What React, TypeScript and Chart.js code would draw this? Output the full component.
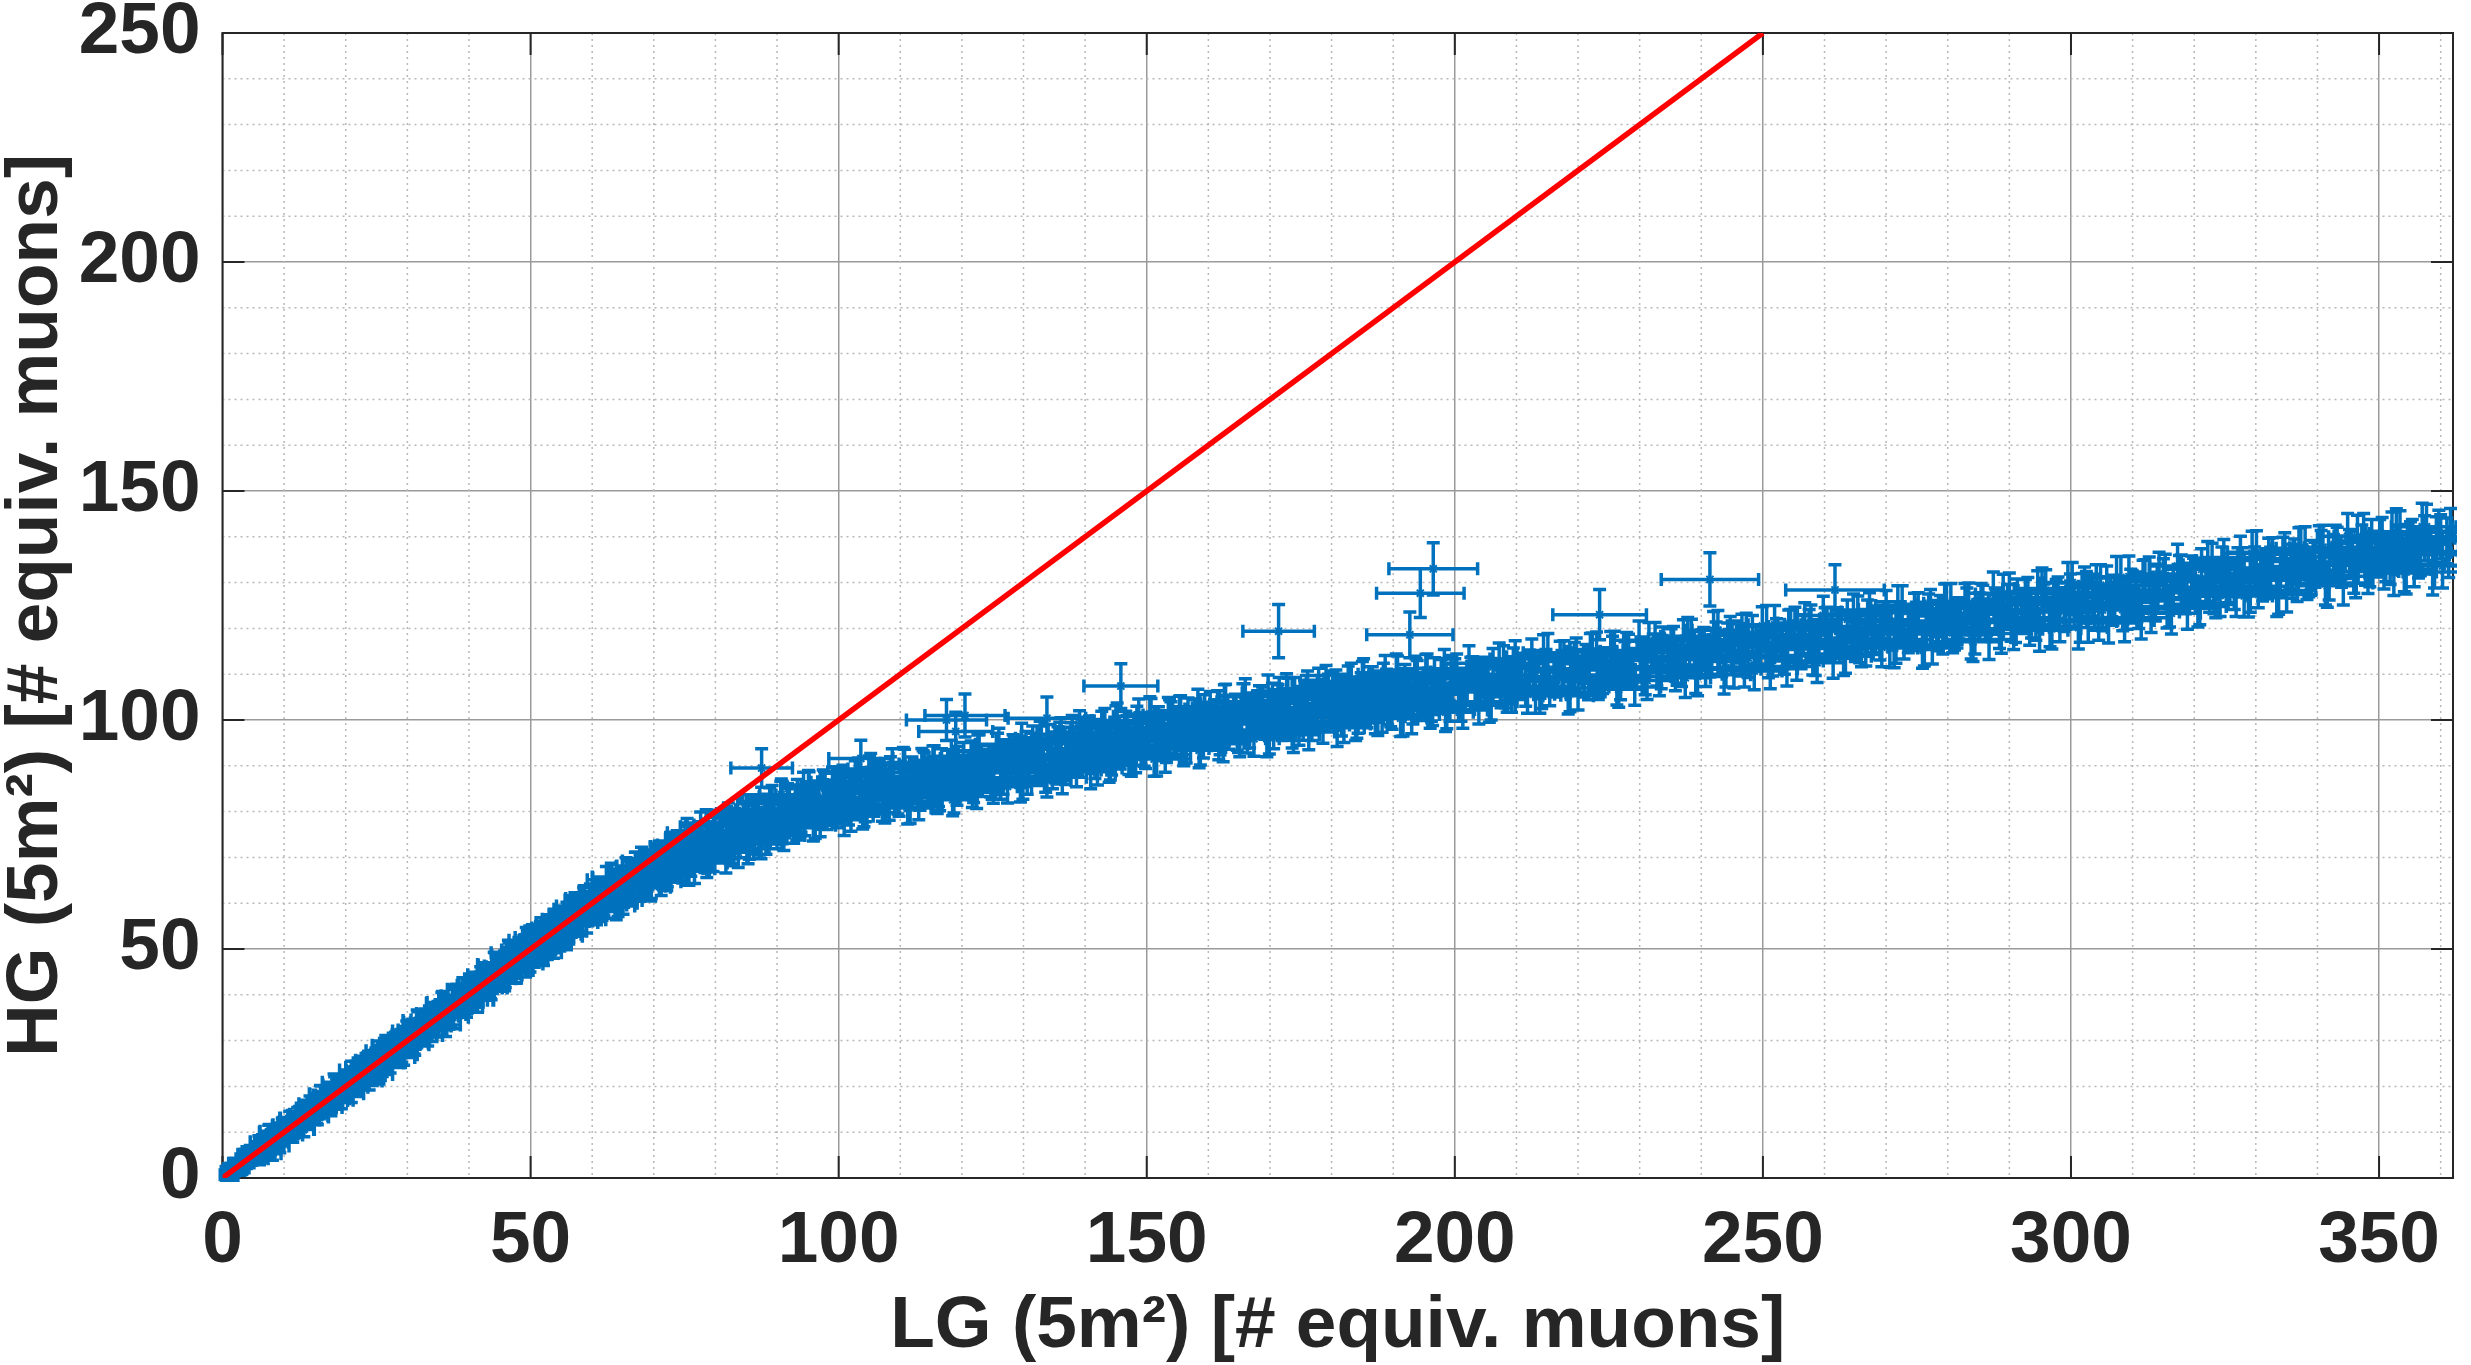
import { useEffect, useRef } from "react"
import Chart from "chart.js/auto"

// LG vs HG (equiv. muons). Errors are half-lengths.
// The band is very dense, so each region is given in three passes that share one error list.
const lgLow = [0.3,0.8,1.2,1.7,2.3,2.8,3.4,3.9,4.5,5.0,
  5.6,6.1,6.7,7.2,7.8,8.3,8.9,9.4,10.0,10.6,
  11.1,11.7,12.2,12.8,13.3,13.9,14.5,15.0,15.6,16.1,
  16.7,17.3,17.8,18.4,18.9,19.5,20.1,20.6,21.2,21.7,
  22.3,22.9,23.4,24.0,24.6,25.1,25.7,26.2,26.8,27.4,
  27.9,28.5,29.1,29.6,30.2,30.8,31.3,31.9,32.5,33.0,
  33.6,34.2,34.7,35.3,35.9,36.4,37.0,37.6,38.1,38.7,
  39.3,39.8,40.4,41.0,41.5,42.1,42.7,43.2,43.8,44.4,
  44.9,45.5,46.1,46.6,47.2,47.8,48.3,48.9,49.5,50.0,
  50.6,51.2,51.7,52.3,52.9,53.4,54.0]
const hgLow = [0.7,0.3,2.1,1.5,2.6,1.8,4.2,3.3,5.8,5.1,
  4.5,6.8,6.5,8.4,6.4,8.7,8.2,10.4,9.6,11.4,
  9.9,12.0,13.7,12.0,13.3,12.6,15.6,14.9,16.1,15.1,
  18.1,16.7,18.0,16.9,19.8,19.2,21.3,19.7,21.8,20.5,
  22.4,24.5,22.7,24.4,23.2,26.1,25.5,26.9,25.7,28.7,
  27.4,28.7,27.5,30.5,29.9,32.3,30.4,32.4,31.3,34.1,
  33.5,34.8,33.2,36.5,35.3,36.7,35.7,39.0,37.7,39.5,
  38.3,40.0,38.8,42.3,41.0,43.0,41.5,43.6,43.0,45.9,
  43.5,46.1,45.9,47.7,45.5,48.5,47.7,50.1,48.2,50.3,
  48.8,52.1,50.7,52.8,50.9,54.2,52.5]
const lgLow2 = [0.6,1.1,1.5,2.0,2.6,3.1,3.7,4.2,4.8,5.3,
  5.9,6.4,7.0,7.5,8.1,8.6,9.2,9.7,10.3,10.9,
  11.4,12.0,12.5,13.1,13.6,14.2,14.8,15.3,15.9,16.4,
  17.0,17.6,18.1,18.7,19.2,19.8,20.4,20.9,21.5,22.0,
  22.6,23.2,23.7,24.3,24.9,25.4,26.0,26.5,27.1,27.7,
  28.2,28.8,29.4,29.9,30.5,31.1,31.6,32.2,32.8,33.3,
  33.9,34.5,35.0,35.6,36.2,36.7,37.3,37.9,38.4,39.0,
  39.6,40.1,40.7,41.3,41.8,42.4,43.0,43.5,44.1,44.7,
  45.2,45.8,46.4,46.9,47.5,48.1,48.6,49.2,49.8,50.3,
  50.9,51.5,52.0,52.6,53.2,53.7,54.3]
const hgLow2 = [1.4,0.7,0.2,3.2,2.9,2.2,5.2,4.1,5.4,4.1,
  7.9,5.3,7.3,10.0,5.3,9.4,7.8,11.4,9.7,13.1,
  9.4,12.0,13.9,10.6,14.2,16.2,14.0,13.6,18.4,16.1,
  18.1,15.4,20.9,17.3,19.5,21.5,19.8,18.4,22.3,24.2,
  21.5,23.2,25.7,22.3,26.3,22.6,26.6,29.0,26.3,29.4,
  29.6,28.0,26.9,32.1,31.1,29.4,34.4,31.9,33.9,31.1,
  35.9,33.4,35.3,38.1,33.4,37.5,35.9,39.6,37.8,41.2,
  37.6,40.1,42.1,38.8,42.4,44.4,42.2,41.8,46.6,44.4,
  46.3,43.6,49.2,45.5,47.8,49.8,48.0,46.7,50.6,52.5,
  49.8,51.5,54.0,50.6,54.6,50.9,54.9]
const lgLow3 = [0.7,1.2,1.6,2.1,2.7,3.2,3.8,4.3,4.9,5.4,
  6.0,6.5,7.1,7.6,8.2,8.7,9.3,9.8,10.4,11.0,
  11.5,12.1,12.6,13.2,13.7,14.3,14.9,15.4,16.0,16.5,
  17.1,17.7,18.2,18.8,19.3,19.9,20.5,21.0,21.6,22.1,
  22.7,23.3,23.8,24.4,25.0,25.5,26.1,26.6,27.2,27.8,
  28.3,28.9,29.5,30.0,30.6,31.2,31.7,32.3,32.9,33.4,
  34.0,34.6,35.1,35.7,36.3,36.8,37.4,38.0,38.5,39.1,
  39.7,40.2,40.8,41.4,41.9,42.5,43.1,43.6,44.2,44.8,
  45.3,45.9,46.5,47.0,47.6,48.2,48.7,49.3,49.9,50.4,
  51.0,51.6,52.1,52.7,53.3,53.8,54.4]
const hgLow3 = [1.5,0.1,2.2,1.9,3.1,2.2,4.9,3.8,5.6,5.4,
  4.2,7.5,5.5,10.2,7.9,9.2,7.0,11.6,9.6,13.1,
  10.2,12.4,13.9,10.6,15.3,13.8,15.7,13.3,18.3,15.5,
  17.1,16.1,20.3,19.3,17.0,20.9,20.2,23.6,19.8,23.4,
  21.9,25.1,21.2,24.7,23.7,27.8,25.6,28.2,25.1,28.6,
  30.1,26.3,30.8,29.5,31.4,29.1,34.0,31.3,34.5,33.4,
  32.2,35.6,33.5,38.3,36.0,37.3,35.1,39.8,37.7,41.2,
  38.4,40.5,42.1,38.8,43.5,42.0,43.9,41.5,46.5,43.8,
  45.3,44.3,48.6,47.5,45.3,49.2,48.4,51.9,47.8,51.4,
  49.9,53.1,49.2,52.7,51.7,55.8,53.6]
const lgLowErr = [0.8,0.9,1.0,1.0,1.1,1.1,1.2,1.2,1.3,1.3,
  1.4,1.3,1.4,1.5,1.4,1.5,1.5,1.6,1.5,1.6,
  1.6,1.7,1.6,1.7,1.7,1.8,1.7,1.8,1.8,1.8,
  1.9,1.8,1.9,1.9,1.9,2.0,1.9,2.0,2.0,2.0,
  2.1,2.0,2.1,2.1,2.1,2.2,2.1,2.2,2.2,2.2,
  2.2,2.3,2.2,2.3,2.3,2.3,2.3,2.4,2.3,2.4,
  2.4,2.4,2.4,2.5,2.4,2.5,2.5,2.5,2.5,2.5,
  2.6,2.5,2.6,2.6,2.6,2.6,2.7,2.6,2.7,2.7,
  2.7,2.7,2.8,2.7,2.8,2.8,2.8,2.8,2.9,2.8,
  2.9,2.9,2.9,2.9,3.0,2.9,3.0]
const hgLowErr = [0.9,0.8,1.0,1.1,1.0,1.2,1.1,1.2,1.3,1.2,
  1.3,1.4,1.3,1.5,1.4,1.4,1.5,1.6,1.5,1.5,
  1.6,1.6,1.7,1.6,1.7,1.7,1.8,1.7,1.8,1.8,
  1.9,1.8,1.8,1.9,1.9,1.9,2.0,1.9,2.0,2.0,
  2.0,2.1,2.0,2.1,2.1,2.1,2.2,2.1,2.2,2.2,
  2.2,2.2,2.3,2.2,2.3,2.3,2.3,2.3,2.4,2.3,
  2.4,2.4,2.4,2.4,2.5,2.4,2.5,2.5,2.5,2.5,
  2.5,2.6,2.5,2.6,2.6,2.6,2.6,2.6,2.7,2.6,
  2.7,2.7,2.7,2.7,2.8,2.7,2.8,2.8,2.8,2.8,
  2.8,2.9,2.8,2.9,2.9,2.9,3.0]

const lgBend = [54.6,55.2,55.9,56.5,57.2,57.8,58.4,59.1,59.7,60.4,
  61.0,61.6,62.3,62.9,63.6,64.2,64.8,65.5,66.1,66.8,
  67.4,68.0,68.7,69.3,70.0,70.6,71.2,71.9,72.5,73.2,
  73.8,74.4,75.1,75.7,76.4,77.0,77.6,78.3,78.9,79.6,
  80.2,80.8,81.5,82.1,82.8,83.4,84.0,84.7,85.3,86.0,
  86.6,87.2,87.9,88.5,89.2,89.8,90.4,91.1,91.7,92.4,
  93.0,93.6,94.3,94.9,95.6,96.2,96.8,97.5,98.1,98.8,
  99.4]
const hgBend = [55.4,53.2,57.4,56.0,59.4,56.5,58.5,56.4,61.2,59.3,
  61.8,59.3,65.1,61.8,64.1,60.0,64.3,66.9,62.5,65.1,
  64.2,69.2,63.7,67.9,66.7,69.9,64.7,70.4,69.4,67.7,
  72.7,69.2,73.9,67.0,72.3,71.4,76.7,69.9,74.7,70.1,
  73.6,76.7,72.5,78.7,71.4,76.7,74.8,78.4,71.9,80.0,
  78.5,73.8,80.5,77.1,82.4,76.5,79.5,74.8,82.7,78.5,
  82.4,77.3,85.2,80.6,83.1,77.6,82.7,85.7,79.6,82.6,
  81.1]
const lgBend2 = [54.9,55.5,56.2,56.8,57.5,58.1,58.7,59.4,60.0,60.7,
  61.3,61.9,62.6,63.2,63.9,64.5,65.1,65.8,66.4,67.1,
  67.7,68.3,69.0,69.6,70.3,70.9,71.5,72.2,72.8,73.5,
  74.1,74.7,75.4,76.0,76.7,77.3,77.9,78.6,79.2,79.9,
  80.5,81.1,81.8,82.4,83.1,83.7,84.3,85.0,85.6,86.3,
  86.9,87.5,88.2,88.8,89.5,90.1,90.7,91.4,92.0,92.7,
  93.3,93.9,94.6,95.2,95.9,96.5,97.1,97.8,98.4,99.1,
  99.7]
const hgBend2 = [56.1,54.7,53.9,58.7,57.8,56.4,61.0,58.9,60.6,58.2,
  62.5,60.3,62.2,65.5,59.4,64.5,62.1,66.4,64.1,68.1,
  63.4,66.2,68.5,64.0,68.3,70.5,67.4,66.7,72.4,69.4,
  71.5,67.6,75.4,69.0,72.1,74.7,71.5,68.8,74.5,77.1,
  72.0,74.2,77.7,71.8,77.5,71.1,76.8,80.4,75.3,79.7,
  79.6,76.3,74.0,81.8,79.5,76.2,83.7,79.1,81.6,76.5,
  83.6,78.8,81.4,85.3,77.0,83.2,79.8,85.0,81.6,86.4,
  80.0]
const lgBend3 = [54.8,55.4,56.1,56.7,57.4,58.0,58.6,59.3,59.9,60.6,
  61.2,61.8,62.5,63.1,63.8,64.4,65.0,65.7,66.3,67.0,
  67.6,68.2,68.9,69.5,70.2,70.8,71.4,72.1,72.7,73.4,
  74.0,74.6,75.3,75.9,76.6,77.2,77.8,78.5,79.1,79.8,
  80.4,81.0,81.7,82.3,83.0,83.6,84.2,84.9,85.5,86.2,
  86.8,87.4,88.1,88.7,89.4,90.0,90.6,91.3,91.9,92.6,
  93.2,93.8,94.5,95.1,95.8,96.4,97.0,97.7,98.3,99.0,
  99.6]
const hgBend3 = [56.5,52.8,57.3,56.1,58.0,55.8,60.7,58.0,61.0,60.1,
  58.9,62.2,59.6,65.7,62.5,64.0,60.6,66.7,63.7,68.0,
  64.0,66.5,68.4,63.5,69.6,67.2,69.4,65.9,72.3,68.2,
  70.0,68.2,74.4,72.0,67.5,73.7,71.9,77.2,69.9,75.7,
  72.4,77.3,69.9,75.3,72.9,79.6,74.9,78.9,72.9,78.3,
  80.4,73.0,80.2,77.2,79.9,75.2,83.2,77.6,82.4,80.0,
  77.2,82.3,78.1,85.6,81.0,82.6,77.9,85.4,81.1,86.3,
  80.8]
const lgBendErr = [2.9,3.0,2.9,3.0,3.0,2.9,3.0,3.1,3.0,3.0,
  3.1,3.0,3.1,3.1,3.0,3.1,3.1,3.2,3.1,3.1,
  3.2,3.1,3.2,3.2,3.1,3.2,3.2,3.2,3.3,3.2,
  3.2,3.3,3.2,3.3,3.3,3.2,3.3,3.3,3.3,3.4,
  3.3,3.3,3.4,3.3,3.4,3.4,3.3,3.4,3.4,3.4,
  3.5,3.4,3.4,3.5,3.4,3.5,3.5,3.4,3.5,3.5,
  3.5,3.6,3.5,3.5,3.6,3.5,3.6,3.6,3.5,3.6,
  3.6]
const hgBendErr = [2.8,2.9,2.8,2.9,2.9,2.9,2.8,2.9,3.0,2.9,
  2.9,3.0,2.9,3.0,3.0,2.9,3.0,3.0,3.0,3.1,
  3.0,3.0,3.1,3.0,3.1,3.1,3.0,3.1,3.1,3.1,
  3.1,3.2,3.1,3.1,3.2,3.1,3.2,3.2,3.1,3.2,
  3.2,3.2,3.3,3.2,3.2,3.3,3.2,3.3,3.3,3.2,
  3.3,3.3,3.3,3.4,3.3,3.3,3.4,3.3,3.4,3.4,
  3.4,3.3,3.4,3.4,3.4,3.5,3.4,3.4,3.5,3.4,
  3.5]

const lgMid = [100.0,100.7,101.6,102.3,103.2,103.9,104.8,105.5,106.4,107.1,
  108.0,108.7,109.6,110.3,111.2,111.9,112.8,113.5,114.4,115.1,
  116.0,116.7,117.6,118.3,119.2,119.9,120.8,121.5,122.4,123.1,
  124.0,124.7,125.6,126.3,127.2,127.9,128.8,129.5,130.4,131.1,
  132.0,132.7,133.6,134.3,135.2,135.9,136.8,137.5,138.4,139.1,
  140.0,140.7,141.6,142.3,143.2,143.9,144.8,145.5,146.4,147.1,
  148.0,148.7,149.6,150.3,151.2,151.9,152.8,153.5,154.4,155.1,
  156.0,156.7,157.6,158.3,159.2,159.9,160.8,161.5,162.4,163.1,
  164.0,164.7,165.6,166.3,167.2,167.9,168.8,169.5,170.4,171.1,
  172.0,172.7,173.6,174.3,175.2,175.9,176.8,177.5,178.4,179.1,
  180.0,180.7,181.6,182.3,183.2,183.9,184.8,185.5,186.4,187.1,
  188.0,188.7,189.6,190.3,191.2,191.9,192.8,193.5,194.4,195.1,
  196.0,196.7,197.6,198.3,199.2]
const hgMid = [82.0,86.7,80.4,84.1,88.3,79.5,86.2,82.9,87.6,81.3,
  85.0,90.2,82.9,87.1,80.8,88.5,85.7,90.4,84.6,87.8,
  83.0,90.2,86.4,92.1,84.8,88.5,86.7,91.9,84.2,90.9,
  89.1,86.8,93.6,86.3,91.5,89.7,93.0,85.7,93.9,92.1,
  89.3,96.0,87.8,92.5,91.2,95.9,89.6,94.8,91.6,98.3,
  92.5,97.2,90.9,94.6,98.9,90.1,96.8,93.5,98.2,91.9,
  95.7,100.8,93.6,97.8,91.5,99.2,96.4,101.1,95.3,98.5,
  93.8,100.9,97.2,102.9,95.6,99.3,97.5,102.6,94.8,101.5,
  99.7,97.3,104.0,96.7,101.9,100.0,103.2,95.9,104.1,102.2,
  99.4,106.1,97.8,102.4,101.1,105.8,99.5,104.7,101.4,108.0,
  102.2,106.8,100.5,104.2,108.3,99.5,106.2,102.8,107.5,101.1,
  104.8,110.0,102.6,106.8,100.4,108.0,105.2,109.8,104.0,107.1,
  102.3,109.4,105.6,111.2,103.9]
const lgMid2 = [100.4,101.1,102.0,102.7,103.6,104.3,105.2,105.9,106.8,107.5,
  108.4,109.1,110.0,110.7,111.6,112.3,113.2,113.9,114.8,115.5,
  116.4,117.1,118.0,118.7,119.6,120.3,121.2,121.9,122.8,123.5,
  124.4,125.1,126.0,126.7,127.6,128.3,129.2,129.9,130.8,131.5,
  132.4,133.1,134.0,134.7,135.6,136.3,137.2,137.9,138.8,139.5,
  140.4,141.1,142.0,142.7,143.6,144.3,145.2,145.9,146.8,147.5,
  148.4,149.1,150.0,150.7,151.6,152.3,153.2,153.9,154.8,155.5,
  156.4,157.1,158.0,158.7,159.6,160.3,161.2,161.9,162.8,163.5,
  164.4,165.1,166.0,166.7,167.6,168.3,169.2,169.9,170.8,171.5,
  172.4,173.1,174.0,174.7,175.6,176.3,177.2,177.9,178.8,179.5,
  180.4,181.1,182.0,182.7,183.6,184.3,185.2,185.9,186.8,187.5,
  188.4,189.1,190.0,190.7,191.6,192.3,193.2,193.9,194.8,195.5,
  196.4,197.1,198.0,198.7,199.6]
const hgMid2 = [85.6,81.8,79.0,87.7,84.9,81.1,89.3,84.0,86.7,80.9,
  88.6,83.3,86.0,90.2,80.9,87.6,83.8,89.5,85.7,90.9,
  83.6,87.3,90.0,83.2,88.9,91.6,86.8,85.5,93.3,88.5,
  91.2,85.4,94.7,87.4,90.6,93.3,89.6,86.3,92.5,95.2,
  89.4,91.6,95.4,88.6,94.8,87.5,93.7,97.4,91.7,96.4,
  96.1,92.3,89.5,98.2,95.5,91.7,99.9,94.6,97.3,91.5,
  99.3,93.9,96.7,100.9,91.6,98.3,94.5,100.2,96.4,101.6,
  94.4,98.0,100.8,94.0,99.7,102.4,97.6,96.2,103.9,99.1,
  101.8,95.9,105.1,97.8,101.0,103.6,99.8,96.5,102.7,105.3,
  99.5,101.7,105.4,98.5,104.7,97.4,103.6,107.3,101.5,106.1,
  105.8,101.9,99.1,107.8,104.9,101.1,109.3,103.9,106.6,100.7,
  108.4,103.1,105.7,109.9,100.5,107.1,103.3,108.9,105.1,110.2,
  102.9,106.5,109.2,102.3,108.0]
const lgMid3 = [100.2,100.9,101.8,102.5,103.4,104.1,105.0,105.7,106.6,107.3,
  108.2,108.9,109.8,110.5,111.4,112.1,113.0,113.7,114.6,115.3,
  116.2,116.9,117.8,118.5,119.4,120.1,121.0,121.7,122.6,123.3,
  124.2,124.9,125.8,126.5,127.4,128.1,129.0,129.7,130.6,131.3,
  132.2,132.9,133.8,134.5,135.4,136.1,137.0,137.7,138.6,139.3,
  140.2,140.9,141.8,142.5,143.4,144.1,145.0,145.7,146.6,147.3,
  148.2,148.9,149.8,150.5,151.4,152.1,153.0,153.7,154.6,155.3,
  156.2,156.9,157.8,158.5,159.4,160.1,161.0,161.7,162.6,163.3,
  164.2,164.9,165.8,166.5,167.4,168.1,169.0,169.7,170.6,171.3,
  172.2,172.9,173.8,174.5,175.4,176.1,177.0,177.7,178.6,179.3,
  180.2,180.9,181.8,182.5,183.4,184.1,185.0,185.7,186.6,187.3,
  188.2,188.9,189.8,190.5,191.4,192.1,193.0,193.7,194.6,195.3,
  196.2,196.9,197.8,198.5,199.4]
const hgMid3 = [86.5,78.2,85.9,82.6,85.3,80.0,88.7,82.4,87.6,84.8,
  81.5,87.2,82.4,90.6,85.3,87.0,81.7,89.9,85.1,90.8,
  84.5,87.7,89.9,82.6,90.8,87.0,89.7,84.4,93.2,86.9,
  89.1,86.3,93.6,90.8,85.5,92.2,90.0,95.7,87.4,93.6,
  89.8,95.0,86.8,92.5,89.7,96.9,91.6,95.8,89.1,94.8,
  97.0,88.7,96.4,93.1,95.9,90.6,99.3,93.0,98.2,95.4,
  92.2,97.8,93.1,101.3,96.0,97.7,92.4,100.6,95.8,101.5,
  95.3,98.4,100.7,93.4,101.6,97.8,100.5,95.1,103.8,97.5,
  99.7,96.8,104.0,101.2,95.9,102.5,100.2,105.9,97.6,103.7,
  99.9,105.1,96.8,102.4,99.6,106.8,101.5,105.7,98.9,104.5,
  106.7,98.3,106.0,102.7,105.3,100.0,108.7,102.3,107.5,104.6,
  101.3,107.0,102.1,110.3,104.9,106.5,101.2,109.3,104.5,110.1,
  103.8,106.9,109.1,101.7,109.9]
const lgMidErr = [3.6,3.7,3.6,3.7,3.6,3.7,3.7,3.6,3.7,3.7,
  3.7,3.8,3.7,3.7,3.8,3.7,3.8,3.7,3.8,3.8,
  3.7,3.8,3.8,3.8,3.7,3.8,3.9,3.8,3.8,3.9,
  3.8,3.9,3.8,3.9,3.9,3.8,3.9,3.9,3.9,3.8,
  3.9,4.0,3.9,3.9,4.0,3.9,4.0,3.9,4.0,4.0,
  3.9,4.0,4.0,4.0,3.9,4.0,4.1,4.0,4.0,4.1,
  4.0,4.1,4.0,4.1,4.1,4.0,4.1,4.1,4.1,4.0,
  4.1,4.2,4.1,4.1,4.2,4.1,4.2,4.1,4.2,4.2,
  4.1,4.2,4.2,4.2,4.1,4.2,4.3,4.2,4.2,4.3,
  4.2,4.3,4.2,4.3,4.3,4.2,4.3,4.3,4.3,4.2,
  4.3,4.4,4.3,4.3,4.4,4.3,4.4,4.3,4.4,4.4,
  4.3,4.4,4.4,4.4,4.3,4.4,4.5,4.4,4.4,4.5,
  4.4,4.5,4.4,4.5,4.5]
const hgMidErr = [3.3,3.4,3.3,3.4,3.4,3.3,3.4,3.4,3.3,3.4,
  3.4,3.5,3.4,3.4,3.5,3.4,3.5,3.4,3.5,3.5,
  3.4,3.5,3.5,3.5,3.4,3.5,3.6,3.5,3.5,3.6,
  3.5,3.6,3.5,3.6,3.6,3.5,3.6,3.6,3.6,3.5,
  3.6,3.7,3.6,3.6,3.7,3.6,3.7,3.6,3.7,3.7,
  3.6,3.7,3.7,3.7,3.6,3.7,3.8,3.7,3.7,3.8,
  3.7,3.8,3.7,3.8,3.8,3.7,3.8,3.8,3.8,3.7,
  3.8,3.9,3.8,3.8,3.9,3.8,3.9,3.8,3.9,3.9,
  3.8,3.9,3.9,3.9,3.8,3.9,4.0,3.9,3.9,4.0,
  3.9,4.0,3.9,4.0,4.0,3.9,4.0,4.0,4.0,3.9,
  4.0,4.1,4.0,4.0,4.1,4.0,4.1,4.0,4.1,4.1,
  4.0,4.1,4.1,4.1,4.0,4.1,4.2,4.1,4.1,4.2,
  4.1,4.2,4.1,4.2,4.2]

const lgHigh = [200.0,201.0,202.3,203.3,204.6,205.6,206.9,207.9,209.2,210.2,
  211.5,212.5,213.8,214.8,216.1,217.1,218.4,219.4,220.7,221.7,
  223.0,224.0,225.3,226.3,227.6,228.6,229.9,230.9,232.2,233.2,
  234.5,235.5,236.8,237.8,239.1,240.1,241.4,242.4,243.7,244.7,
  246.0,247.0,248.3,249.3,250.6,251.6,252.9,253.9,255.2,256.2,
  257.5,258.5,259.8,260.8,262.1,263.1,264.4,265.4,266.7,267.7,
  269.0,270.0,271.3,272.3,273.6,274.6,275.9,276.9,278.2,279.2,
  280.5,281.5,282.8,283.8,285.1,286.1,287.4,288.4,289.7,290.7,
  292.0,293.0,294.3,295.3,296.6,297.6,298.9,299.9,301.2,302.2,
  303.5,304.5,305.8,306.8,308.1,309.1,310.4,311.4,312.7,313.7,
  315.0,316.0,317.3,318.3,319.6,320.6,321.9,322.9,324.2,325.2,
  326.5,327.5,328.8,329.8,331.1,332.1,333.4,334.4,335.7,336.7,
  338.0,339.0,340.3,341.3,342.6,343.6,344.9,345.9,347.2,348.2,
  349.5,350.5,351.8,352.8,354.1,355.1,356.4,357.4,358.7,359.7,
  361.0]
const hgHigh = [109.5,103.7,112.4,107.1,109.8,103.5,109.2,112.4,105.7,108.8,
  107.1,113.8,105.5,111.2,108.9,113.1,105.3,113.0,111.2,108.4,
  115.1,109.8,115.1,107.2,113.0,111.6,117.4,109.6,114.8,109.5,
  113.2,116.4,111.6,118.3,110.0,115.7,113.5,117.1,109.9,118.5,
  116.8,111.5,118.7,114.9,120.6,113.8,117.0,111.7,120.4,115.6,
  119.9,114.0,122.8,117.4,120.2,113.9,119.6,122.8,116.0,119.2,
  117.4,124.1,115.8,121.5,119.2,123.4,115.7,123.3,121.6,118.8,
  125.5,120.2,125.4,117.6,123.3,122.0,127.7,119.9,125.1,119.8,
  123.6,126.7,122.0,128.7,120.4,126.1,123.8,127.5,120.2,128.9,
  127.2,121.9,129.2,125.4,131.1,124.3,127.6,122.3,131.1,126.3,
  130.6,124.8,133.6,128.3,131.1,124.8,130.7,133.9,127.2,130.4,
  128.8,135.5,127.3,133.1,130.9,135.1,127.4,135.2,133.5,130.7,
  137.5,132.3,137.6,129.8,135.6,134.3,140.1,132.4,137.7,132.4,
  136.2,139.4,134.5,141.1,132.8,138.4,136.1,139.7,132.3,141.0,
  139.1]
const lgHigh2 = [200.6,201.6,202.9,203.9,205.2,206.2,207.5,208.5,209.8,210.8,
  212.1,213.1,214.4,215.4,216.7,217.7,219.0,220.0,221.3,222.3,
  223.6,224.6,225.9,226.9,228.2,229.2,230.5,231.5,232.8,233.8,
  235.1,236.1,237.4,238.4,239.7,240.7,242.0,243.0,244.3,245.3,
  246.6,247.6,248.9,249.9,251.2,252.2,253.5,254.5,255.8,256.8,
  258.1,259.1,260.4,261.4,262.7,263.7,265.0,266.0,267.3,268.3,
  269.6,270.6,271.9,272.9,274.2,275.2,276.5,277.5,278.8,279.8,
  281.1,282.1,283.4,284.4,285.7,286.7,288.0,289.0,290.3,291.3,
  292.6,293.6,294.9,295.9,297.2,298.2,299.5,300.5,301.8,302.8,
  304.1,305.1,306.4,307.4,308.7,309.7,311.0,312.0,313.3,314.3,
  315.6,316.6,317.9,318.9,320.2,321.2,322.5,323.5,324.8,325.8,
  327.1,328.1,329.4,330.4,331.7,332.7,334.0,335.0,336.3,337.3,
  338.6,339.6,340.9,341.9,343.2,344.2,345.5,346.5,347.8,348.8,
  350.1,351.1,352.4,353.4,354.7,355.7,357.0,358.0,359.3,360.3,
  361.6]
const hgHigh2 = [103.6,107.3,110.0,103.2,108.9,111.6,106.8,105.5,113.3,108.4,
  111.2,105.4,114.6,107.3,110.5,113.2,109.4,106.1,112.3,115.0,
  109.2,111.4,115.2,108.3,114.6,107.2,113.5,117.2,111.4,116.1,
  115.8,112.0,109.2,117.9,115.1,111.3,119.6,114.2,117.0,111.1,
  118.9,113.6,116.3,120.5,111.2,117.9,114.1,119.8,116.0,121.2,
  114.0,117.6,120.4,113.5,119.3,122.0,117.2,115.9,123.6,118.8,
  121.5,115.7,124.9,117.6,120.8,123.5,119.8,116.4,122.7,125.4,
  119.6,121.8,125.5,118.7,124.9,117.6,123.8,127.5,121.7,126.4,
  126.2,122.3,119.6,128.3,125.5,121.7,129.9,124.6,127.3,121.5,
  129.3,124.0,126.8,131.0,121.7,128.4,124.7,130.4,126.7,131.9,
  124.7,128.4,131.2,124.4,130.2,132.9,128.3,127.0,134.8,130.0,
  132.9,127.1,136.4,129.2,132.5,135.2,131.5,128.3,134.6,137.3,
  131.6,133.9,137.7,130.9,137.2,129.9,136.2,140.0,134.3,139.0,
  138.8,135.0,132.1,140.7,137.9,134.0,142.2,136.8,139.4,133.6,
  141.2]
const lgHigh3 = [200.3,201.3,202.6,203.6,204.9,205.9,207.2,208.2,209.5,210.5,
  211.8,212.8,214.1,215.1,216.4,217.4,218.7,219.7,221.0,222.0,
  223.3,224.3,225.6,226.6,227.9,228.9,230.2,231.2,232.5,233.5,
  234.8,235.8,237.1,238.1,239.4,240.4,241.7,242.7,244.0,245.0,
  246.3,247.3,248.6,249.6,250.9,251.9,253.2,254.2,255.5,256.5,
  257.8,258.8,260.1,261.1,262.4,263.4,264.7,265.7,267.0,268.0,
  269.3,270.3,271.6,272.6,273.9,274.9,276.2,277.2,278.5,279.5,
  280.8,281.8,283.1,284.1,285.4,286.4,287.7,288.7,290.0,291.0,
  292.3,293.3,294.6,295.6,296.9,297.9,299.2,300.2,301.5,302.5,
  303.8,304.8,306.1,307.1,308.4,309.4,310.7,311.7,313.0,314.0,
  315.3,316.3,317.6,318.6,319.9,320.9,322.2,323.2,324.5,325.5,
  326.8,327.8,329.1,330.1,331.4,332.4,333.7,334.7,336.0,337.0,
  338.3,339.3,340.6,341.6,342.9,343.9,345.2,346.2,347.5,348.5,
  349.8,350.8,352.1,353.1,354.4,355.4,356.7,357.7,359.0,360.0,
  361.3]
const hgHigh3 = [110.5,102.2,109.9,106.6,109.3,104.0,112.7,106.4,111.7,108.8,
  105.6,111.3,106.5,114.7,109.4,111.1,105.8,114.0,109.2,114.9,
  108.6,111.8,114.1,106.7,115.0,111.1,113.9,108.6,117.3,111.0,
  113.2,110.4,117.6,114.8,109.5,116.2,114.0,119.6,111.4,117.5,
  113.8,119.0,110.7,116.4,113.6,120.8,115.5,119.7,112.9,118.6,
  120.9,112.5,120.3,116.9,119.7,114.4,123.1,116.8,122.0,119.2,
  115.9,121.6,116.8,125.0,119.7,121.4,116.2,124.3,119.6,125.3,
  119.0,122.2,124.4,117.1,125.3,121.5,124.2,118.9,127.6,121.3,
  123.6,120.7,128.0,125.2,119.9,126.6,124.3,130.0,121.7,127.9,
  124.2,129.4,121.2,126.9,124.1,131.3,126.1,130.3,123.6,129.3,
  131.6,123.3,131.1,127.8,130.6,125.3,134.2,127.9,133.2,130.4,
  127.3,133.0,128.3,136.6,131.4,133.1,127.9,136.2,131.5,137.2,
  131.0,134.3,136.6,129.3,137.6,133.8,136.6,131.4,140.2,133.9,
  136.2,133.4,140.5,137.6,132.3,138.9,136.6,142.2,133.8,140.0,
  136.1]
const lgHighErr = [4.2,4.0,4.3,4.1,4.4,4.2,4.0,4.3,4.1,4.2,
  4.4,4.1,4.3,4.0,4.2,4.4,4.1,4.3,4.2,4.0,
  4.3,4.2,4.4,4.1,4.3,4.2,4.5,4.1,4.3,4.2,
  4.4,4.2,4.1,4.4,4.3,4.2,4.5,4.2,4.3,4.4,
  4.2,4.3,4.5,4.2,4.4,4.3,4.2,4.5,4.3,4.4,
  4.3,4.5,4.2,4.4,4.3,4.5,4.4,4.3,4.6,4.4,
  4.3,4.5,4.4,4.3,4.6,4.4,4.5,4.3,4.4,4.6,
  4.4,4.5,4.3,4.6,4.5,4.4,4.6,4.5,4.4,4.7,
  4.5,4.4,4.6,4.5,4.7,4.4,4.6,4.5,4.7,4.6,
  4.5,4.7,4.6,4.5,4.8,4.6,4.7,4.5,4.6,4.8,
  4.6,4.7,4.5,4.8,4.7,4.6,4.8,4.7,4.6,4.9,
  4.7,4.6,4.8,4.7,4.9,4.6,4.8,4.7,4.9,4.8,
  4.7,4.9,4.8,4.7,5.0,4.8,4.9,4.7,4.8,5.0,
  4.8,4.9,4.7,5.0,4.9,4.8,5.0,4.9,4.8,5.1,
  4.9]
const hgHighErr = [3.9,4.0,3.8,4.1,3.9,4.0,4.1,3.8,4.0,3.9,
  4.1,3.9,4.0,4.2,3.9,4.1,4.0,3.9,4.2,4.0,
  4.1,4.0,4.2,3.9,4.1,4.0,4.2,4.1,4.0,4.2,
  4.1,4.0,4.3,4.1,4.2,4.0,4.1,4.3,4.2,4.1,
  4.2,4.3,4.1,4.2,4.4,4.2,4.1,4.3,4.2,4.4,
  4.2,4.3,4.2,4.4,4.3,4.2,4.4,4.3,4.2,4.5,
  4.3,4.2,4.4,4.3,4.5,4.3,4.4,4.2,4.5,4.4,
  4.3,4.5,4.4,4.3,4.5,4.4,4.6,4.3,4.5,4.4,
  4.5,4.4,4.6,4.5,4.4,4.6,4.5,4.4,4.7,4.5,
  4.6,4.5,4.4,4.7,4.6,4.5,4.7,4.6,4.5,4.7,
  4.6,4.5,4.8,4.6,4.7,4.5,4.8,4.7,4.6,4.8,
  4.7,4.6,4.8,4.7,4.9,4.6,4.8,4.7,4.9,4.8,
  4.7,4.9,4.8,4.7,4.9,4.8,5.0,4.7,4.9,4.8,
  5.0,4.8,4.9,5.0,4.8,4.9,5.1,4.9,5.0,4.8,
  5.0]

// isolated points above the band
const lgOut = [87.5,103.6,117.5,119.0,120.5,133.8,145.8,171.4,192.7,194.4,196.5,223.5,241.4,261.7]
const hgOut = [89.5,91.6,100.0,97.5,101.0,100.4,107.4,119.4,118.6,127.7,133.0,123.0,130.7,128.4]
const lgOutErr = [5.0,5.2,6.5,6.0,6.5,6.3,6.0,5.8,7.0,7.1,7.2,7.6,7.9,8.0]
const hgOutErr = [4.2,4.0,4.5,4.2,4.7,4.6,4.9,5.8,5.0,5.3,5.7,5.5,5.8,5.5]

// y = x reference line
const unityLg = [0, 250]
const unityHg = [0, 250]

const xTicks = [0, 50, 100, 150, 200, 250, 300, 350]
const yTicks = [0, 50, 100, 150, 200, 250]
const X_MAX = 362
const Y_MAX = 250

const BLUE = "#0072BD"
const INK = "#262626"
const FONT = '"Liberation Sans", Arial, Helvetica, sans-serif'

const lgAll = [
  ...lgLow, ...lgLow2, ...lgLow3,
  ...lgBend, ...lgBend2, ...lgBend3,
  ...lgMid, ...lgMid2, ...lgMid3,
  ...lgHigh, ...lgHigh2, ...lgHigh3,
  ...lgOut,
]
const hgAll = [
  ...hgLow, ...hgLow2, ...hgLow3,
  ...hgBend, ...hgBend2, ...hgBend3,
  ...hgMid, ...hgMid2, ...hgMid3,
  ...hgHigh, ...hgHigh2, ...hgHigh3,
  ...hgOut,
]
const lgErrAll = [
  ...lgLowErr, ...lgLowErr, ...lgLowErr,
  ...lgBendErr, ...lgBendErr, ...lgBendErr,
  ...lgMidErr, ...lgMidErr, ...lgMidErr,
  ...lgHighErr, ...lgHighErr, ...lgHighErr,
  ...lgOutErr,
]
const hgErrAll = [
  ...hgLowErr, ...hgLowErr, ...hgLowErr,
  ...hgBendErr, ...hgBendErr, ...hgBendErr,
  ...hgMidErr, ...hgMidErr, ...hgMidErr,
  ...hgHighErr, ...hgHighErr, ...hgHighErr,
  ...hgOutErr,
]

const errorBars = {
  id: "errorBars",
  beforeDatasetDraw(chart: any, args: any) {
    const ds = chart.data.datasets[args.index]
    if (!ds.errX) return
    const { ctx, chartArea: a } = chart
    const xs = chart.scales.x
    const ys = chart.scales.y
    const cap = 6.5
    ctx.save()
    ctx.beginPath()
    ctx.rect(a.left - 4, a.top - 4, a.width + 8, a.height + 8)
    ctx.clip()
    ctx.strokeStyle = ds.borderColor
    ctx.lineWidth = 3.5
    ctx.beginPath()
    ds.data.forEach((p: { x: number; y: number }, i: number) => {
      const px = xs.getPixelForValue(p.x)
      const py = ys.getPixelForValue(p.y)
      const xl = xs.getPixelForValue(p.x - ds.errX[i])
      const xr = xs.getPixelForValue(p.x + ds.errX[i])
      const yb = ys.getPixelForValue(p.y - ds.errY[i])
      const yt = ys.getPixelForValue(p.y + ds.errY[i])
      ctx.moveTo(xl, py); ctx.lineTo(xr, py)
      ctx.moveTo(xl, py - cap); ctx.lineTo(xl, py + cap)
      ctx.moveTo(xr, py - cap); ctx.lineTo(xr, py + cap)
      ctx.moveTo(px, yb); ctx.lineTo(px, yt)
      ctx.moveTo(px - cap, yb); ctx.lineTo(px + cap, yb)
      ctx.moveTo(px - cap, yt); ctx.lineTo(px + cap, yt)
    })
    ctx.stroke()
    ctx.restore()
  },
}

// matlab-ish frame: dotted minor grid, full box, inward ticks
const frame = {
  id: "frame",
  beforeDatasetsDraw(chart: any) {
    const { ctx, chartArea: a } = chart
    const xs = chart.scales.x
    const ys = chart.scales.y
    ctx.save()
    ctx.strokeStyle = "#b8b8b8"
    ctx.lineWidth = 1.5
    ctx.setLineDash([2, 4])
    ctx.beginPath()
    for (let v = 10; v < X_MAX; v += 10) {
      if (v % 50 === 0) continue
      const p = xs.getPixelForValue(v)
      ctx.moveTo(p, a.top); ctx.lineTo(p, a.bottom)
    }
    for (let v = 10; v < Y_MAX; v += 10) {
      if (v % 50 === 0) continue
      const p = ys.getPixelForValue(v)
      ctx.moveTo(a.left, p); ctx.lineTo(a.right, p)
    }
    ctx.stroke()
    ctx.setLineDash([])
    ctx.strokeStyle = INK
    ctx.lineWidth = 2
    ctx.strokeRect(a.left, a.top, a.width, a.height)
    const tl = 22
    ctx.beginPath()
    xTicks.forEach((v) => {
      const p = xs.getPixelForValue(v)
      ctx.moveTo(p, a.bottom); ctx.lineTo(p, a.bottom - tl)
      ctx.moveTo(p, a.top); ctx.lineTo(p, a.top + tl)
    })
    yTicks.forEach((v) => {
      const p = ys.getPixelForValue(v)
      ctx.moveTo(a.left, p); ctx.lineTo(a.left + tl, p)
      ctx.moveTo(a.right, p); ctx.lineTo(a.right - tl, p)
    })
    ctx.stroke()
    ctx.restore()
  },
}

export default function App() {
  const canvasRef = useRef<HTMLCanvasElement | null>(null)

  useEffect(() => {
    if (!canvasRef.current) return
    const chart = new Chart(canvasRef.current, {
      type: "scatter",
      data: {
        datasets: [
          {
            label: "unity",
            data: unityLg.map((x, i) => ({ x, y: unityHg[i] })),
            showLine: true,
            borderColor: "#ff0000",
            borderWidth: 5.5,
            pointRadius: 0,
            order: 0,
          },
          {
            label: "HG vs LG",
            data: lgAll.map((x, i) => ({ x, y: hgAll[i] })),
            errX: lgErrAll,
            errY: hgErrAll,
            borderColor: BLUE,
            backgroundColor: BLUE,
            pointStyle: "star",
            pointRadius: 5,
            borderWidth: 2,
            clip: 4,
            order: 1,
          } as any,
        ],
      },
      options: {
        animation: false,
        responsive: true,
        maintainAspectRatio: false,
        events: [],
        layout: { padding: { left: 0, right: 18, top: 33, bottom: 0 } },
        plugins: { legend: { display: false }, tooltip: { enabled: false } },
        scales: {
          x: {
            type: "linear",
            min: 0,
            max: X_MAX,
            afterBuildTicks: (s: any) => {
              s.ticks = xTicks.map((value) => ({ value }))
            },
            afterFit: (s: any) => {
              s.height = 187
            },
            grid: { color: "#9a9a9a", lineWidth: 1.5, drawTicks: false },
            border: { display: false },
            ticks: {
              color: INK,
              font: { family: FONT, size: 73, weight: "bold", lineHeight: 1.2 },
              padding: 20,
              maxRotation: 0,
              autoSkip: false,
            },
            title: {
              display: true,
              text: "LG (5m²) [# equiv. muons]",
              color: INK,
              font: { family: FONT, size: 73, weight: "bold", lineHeight: 1.0 },
              padding: { top: 0, bottom: 2 },
            },
          },
          y: {
            type: "linear",
            min: 0,
            max: Y_MAX,
            afterBuildTicks: (s: any) => {
              s.ticks = yTicks.map((value) => ({ value }))
            },
            afterFit: (s: any) => {
              s.width = 222.5
            },
            grid: { color: "#9a9a9a", lineWidth: 1.5, drawTicks: false },
            border: { display: false },
            ticks: {
              color: INK,
              // tiny line height keeps the top label from pushing the plot down
              font: { family: FONT, size: 73, weight: "bold", lineHeight: 0.15 },
              padding: 22,
              autoSkip: false,
            },
            title: {
              display: true,
              text: "HG (5m²) [# equiv. muons]",
              color: INK,
              font: { family: FONT, size: 73, weight: "bold", lineHeight: 1.0 },
              padding: { top: 0, bottom: 0 },
            },
          },
        },
      },
      plugins: [frame, errorBars],
    })
    return () => chart.destroy()
  }, [])

  return (
    <div style={{ position: "fixed", left: 0, top: 0, width: "2471px", height: "1365px", background: "#fff" }}>
      <canvas ref={canvasRef} />
    </div>
  )
}
